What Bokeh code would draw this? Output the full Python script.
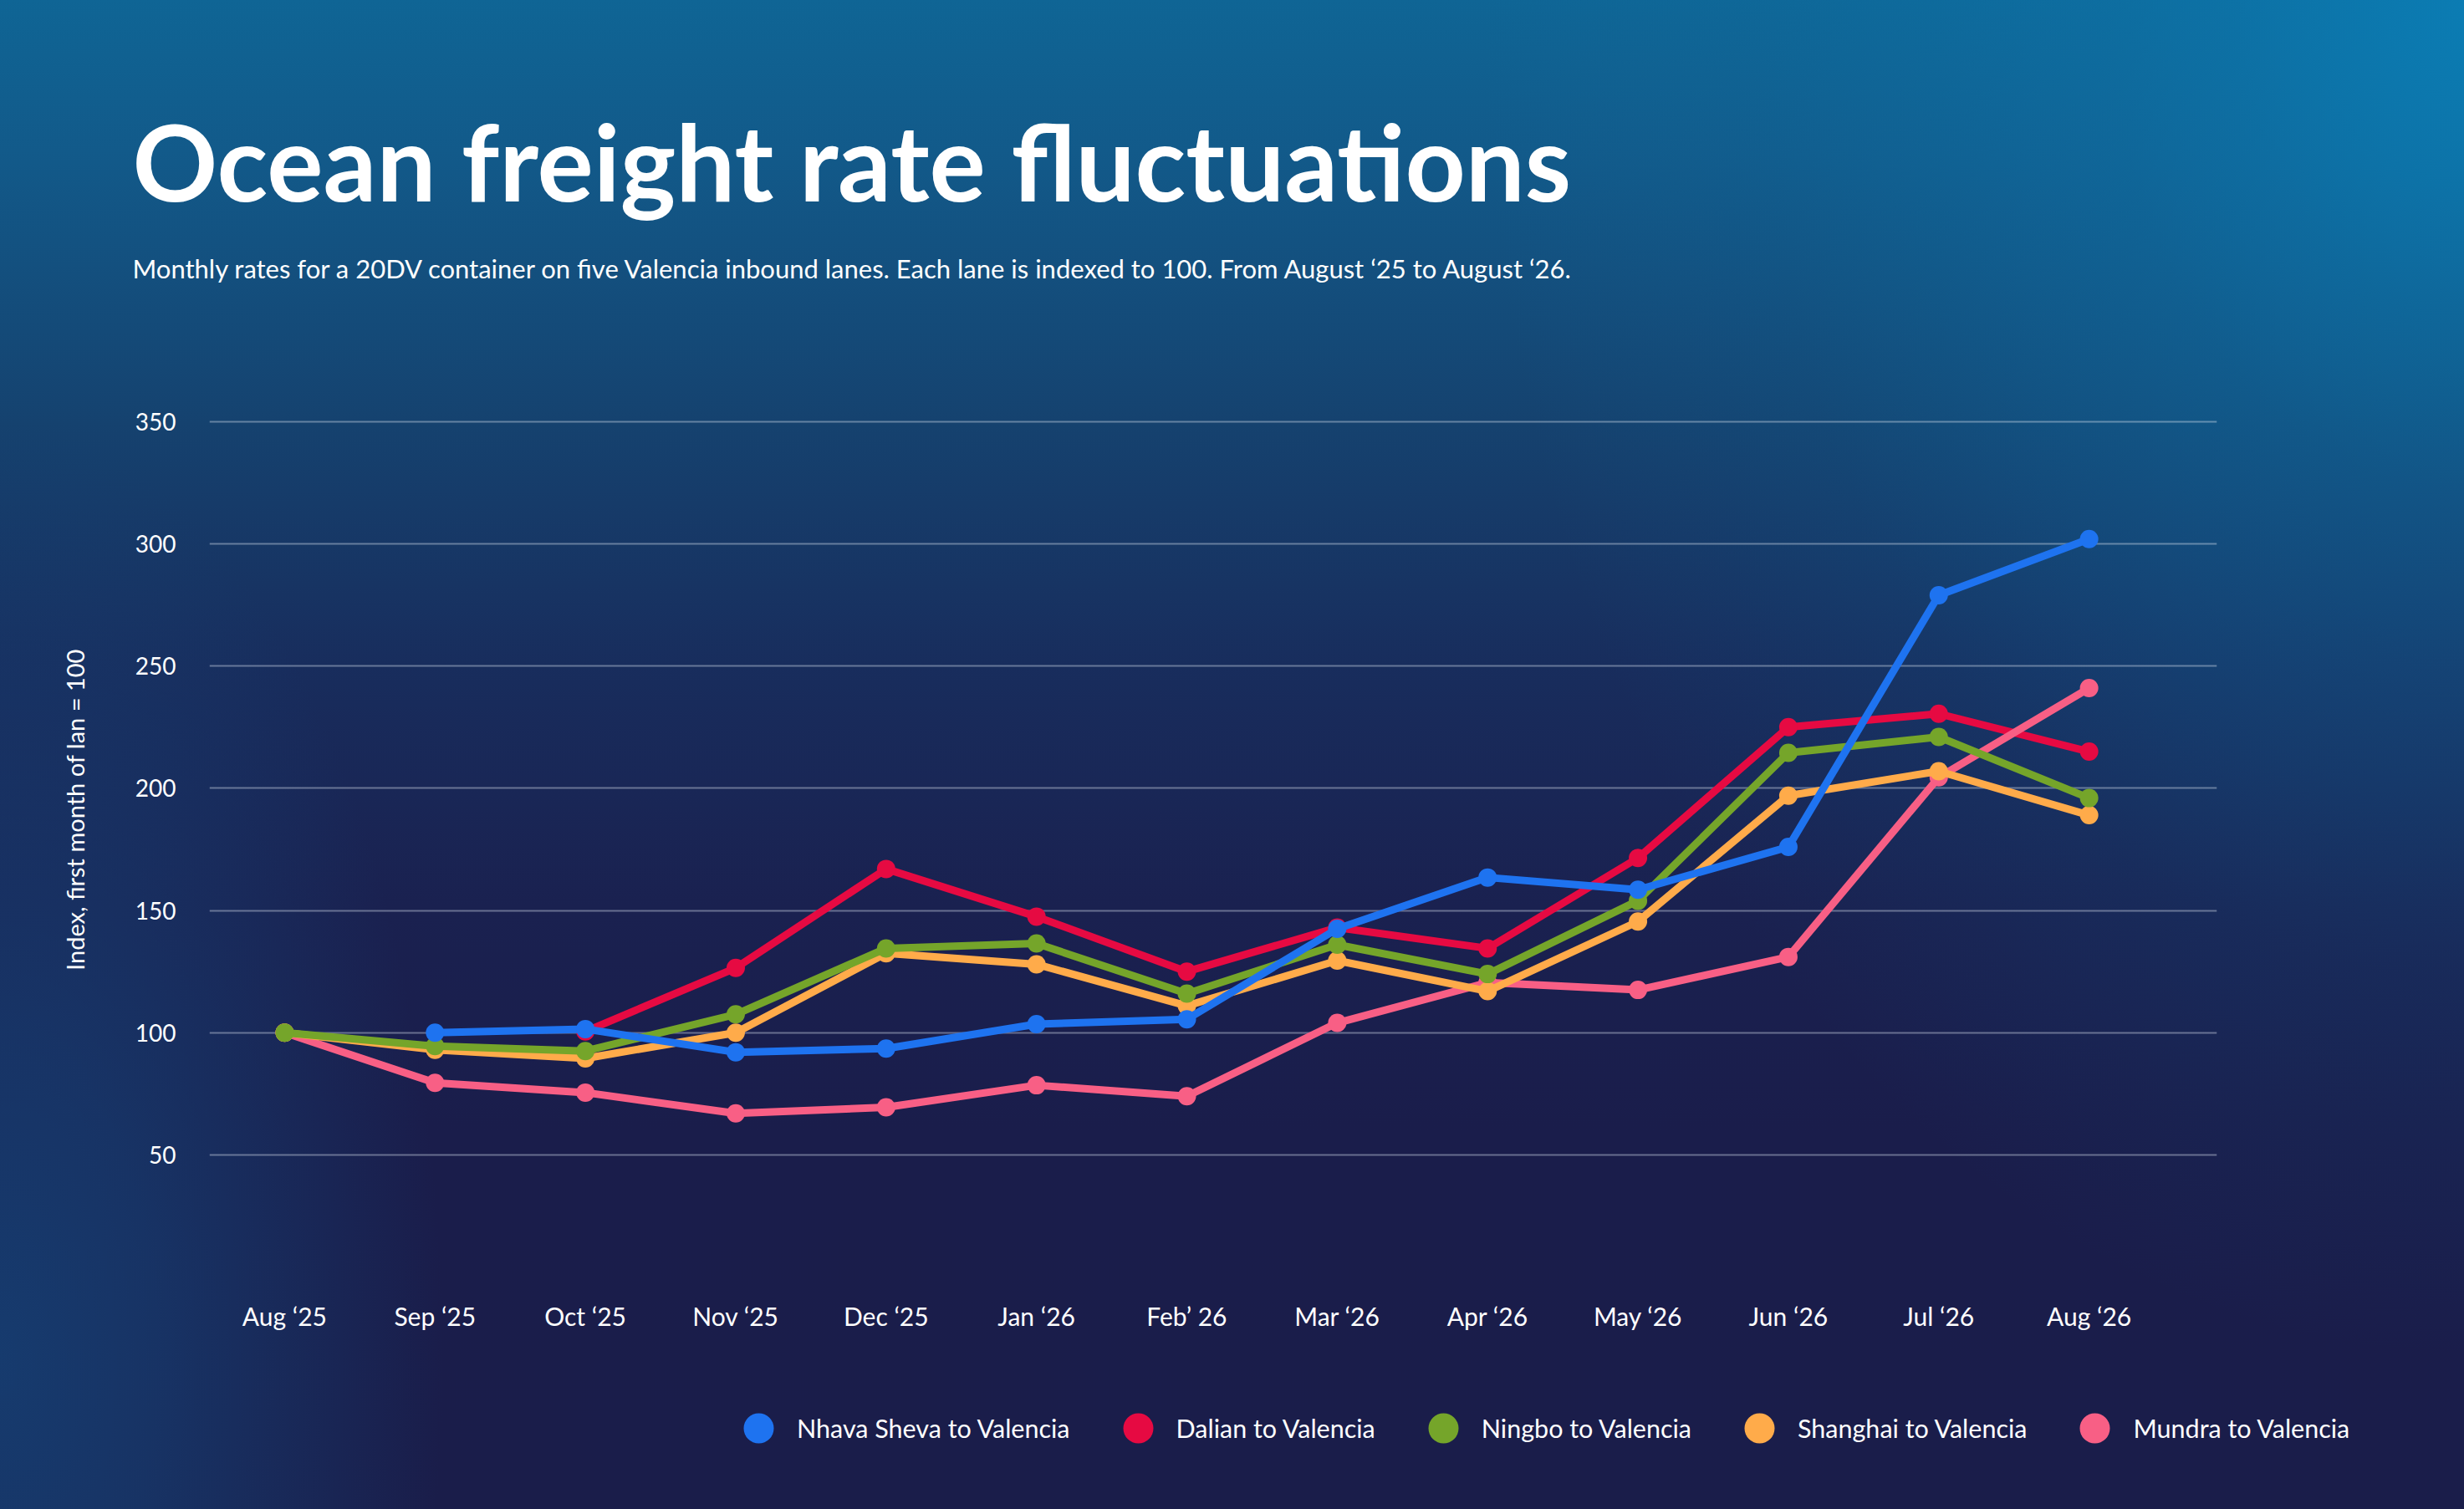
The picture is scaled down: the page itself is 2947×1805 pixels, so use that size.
from bokeh.plotting import figure
from bokeh.models import (ColumnDataSource, FixedTicker, Legend, LegendItem,
                          Label, Range1d)
from bokeh.embed import file_html
from bokeh.resources import INLINE

# ---------------- data ----------------
months = ["Aug \u201825", "Sep \u201825", "Oct \u201825", "Nov \u201825", "Dec \u201825",
          "Jan \u201826", "Feb\u2019 26", "Mar \u201826", "Apr \u201826", "May \u201826",
          "Jun \u201826", "Jul \u201826", "Aug \u201826"]

lanes = ["Nhava Sheva to Valencia", "Dalian to Valencia", "Ningbo to Valencia",
         "Shanghai to Valencia", "Mundra to Valencia"]

nhava_sheva = [None, 100, 101.5, 92, 93.5, 103.5, 105.5, 142.5, 163.5, 158.5, 176, 279, 302]
dalian = [None, None, 100.5, 126.5, 167, 147.5, 125, 143, 134.5, 171.5, 225, 230.5, 215]
ningbo = [100, 94.5, 92.5, 107.5, 134.5, 136.5, 116, 136, 124, 154, 214.5, 221, 196]
shanghai = [100, 93, 89.5, 100, 132.5, 128, 111, 129.5, 117, 145.5, 197, 207, 189]
mundra = [100, 79.5, 75.5, 67, 69.5, 78.5, 74, 104, 120.5, 117.5, 131, 204.5, 241]

y_ticks = [50, 100, 150, 200, 250, 300, 350]

title_text = "Ocean freight rate fluctuations"
subtitle_text = ("Monthly rates for a 20DV container on five Valencia inbound lanes. "
                 "Each lane is indexed to 100. From August \u201825 to August \u201826.")
y_label = "Index, first month of lan = 100"

colors = ["#1e73f0", "#e60a42", "#75a52a", "#ffab4a", "#f85f85"]
series = [nhava_sheva, dalian, ningbo, shanghai, mundra]

FONT = "Lato"
W = 2947
H_HEAD, H_MAIN, H_LEG = 360, 1260, 185


def bare_strip(height):
    f = figure(width=W, height=height, output_backend="svg", toolbar_location=None,
               x_range=Range1d(0, W), y_range=Range1d(0, height),
               x_axis_location=None, y_axis_location=None, min_border=0, title=None)
    f.background_fill_alpha = 0
    f.border_fill_alpha = 0
    f.outline_line_color = None
    f.grid.visible = False
    return f

# ---------------- heading strip ----------------
head = bare_strip(H_HEAD)
head.add_layout(Label(x=158, y=168, text=title_text, text_font=FONT,
                      text_font_size="126px", text_font_style="bold",
                      text_color="white", text_align="left",
                      text_baseline="middle"))
head.add_layout(Label(x=158, y=40, text=subtitle_text, text_font=FONT,
                      text_font_size="31px", text_font_style="normal",
                      text_color="white", text_align="left",
                      text_baseline="middle"))

# ---------------- main chart ----------------
p = figure(width=W, height=H_MAIN, output_backend="svg", toolbar_location=None,
           x_range=Range1d(-0.5, 12.85), y_range=Range1d(3.8, 378.7),
           min_border_left=250, min_border_right=296,
           min_border_top=420 - H_HEAD, min_border_bottom=H_MAIN - (1516 - H_HEAD),
           title=None)
p.background_fill_alpha = 0
p.border_fill_alpha = 0
p.outline_line_color = None

x_idx = list(range(len(months)))

def clean(vals):
    return [float("nan") if v is None else v for v in vals]

sources = [ColumnDataSource(dict(x=x_idx, y=clean(s))) for s in series]

draw_order = [1, 4, 3, 2, 0]  # red, pink, orange, green, blue (blue on top)
for i in draw_order:
    p.line("x", "y", source=sources[i], line_color=colors[i], line_width=9,
           line_join="round", line_cap="round")
    p.scatter("x", "y", source=sources[i], size=22, fill_color=colors[i],
              line_color=None, marker="circle")

p.yaxis.ticker = FixedTicker(ticks=y_ticks)
p.yaxis.axis_label = y_label
p.yaxis.axis_label_text_font = FONT
p.yaxis.axis_label_text_font_size = "29px"
p.yaxis.axis_label_text_font_style = "normal"
p.yaxis.axis_label_text_color = "white"
p.yaxis.axis_label_standoff = 52
p.yaxis.major_label_text_font = FONT
p.yaxis.major_label_text_font_size = "28px"
p.yaxis.major_label_text_color = "white"
p.yaxis.major_label_standoff = 34

p.xaxis.ticker = FixedTicker(ticks=x_idx)
p.xaxis.major_label_overrides = {i: m for i, m in enumerate(months)}
p.xaxis.major_label_text_font = FONT
p.xaxis.major_label_text_font_size = "30px"
p.xaxis.major_label_text_color = "white"
p.xaxis.major_label_standoff = 33

for ax in (p.xaxis, p.yaxis):
    ax.axis_line_color = None
    ax.major_tick_line_color = None
    ax.minor_tick_line_color = None

p.xgrid.grid_line_color = None
p.ygrid.grid_line_color = "#dfe6f2"
p.ygrid.grid_line_alpha = 0.4
p.ygrid.grid_line_width = 2

# ---------------- legend strip ----------------
lg = figure(width=W, height=H_LEG, output_backend="svg", toolbar_location=None,
            x_range=Range1d(0, 1), y_range=Range1d(0, 1),
            x_axis_location=None, y_axis_location=None,
            min_border=0, title=None)
lg.background_fill_alpha = 0
lg.border_fill_alpha = 0
lg.outline_line_color = None
lg.grid.visible = False

swatches = [lg.scatter("x", "y", source=sources[i], size=36, fill_color=colors[i],
                       line_color=None, marker="circle") for i in range(len(lanes))]
legend = Legend(items=[LegendItem(label=lanes[i], renderers=[swatches[i]])
                       for i in range(len(lanes))],
                orientation="horizontal", location=(862, 52),
                glyph_width=90, glyph_height=90, label_standoff=1, spacing=36,
                padding=0, margin=0, border_line_alpha=0, background_fill_alpha=0,
                label_text_color="white", label_text_font=FONT,
                label_text_font_size="30.5px")
lg.add_layout(legend)

html = file_html([head, p, lg], INLINE, title=title_text)
css = ("<style>html{min-height:100%;background:"
       "radial-gradient(ellipse 18% 62% at 0% 90%, rgba(21,69,122,0.75) 0%, "
       "rgba(21,69,122,0.55) 35%, rgba(21,69,122,0.28) 68%, "
       "rgba(21,69,122,0) 100%),"
       "radial-gradient(ellipse 40% 90% at 100% 0%, rgba(11,124,179,1) 0%, "
       "rgba(11,124,179,0.56) 23%, rgba(11,124,179,0.38) 36%, rgba(11,124,179,0.11) 72%, "
       "rgba(11,124,179,0) 100%),"
       "linear-gradient(180deg, #0f6595 0%, #125a8a 10%, #15426f 28%, #182d5d 44%, "
       "#1a2150 60%, #1a1d4b 75%, #1a1d4a 100%);}</style>")
html = html.replace("</head>", css + "</head>", 1)
open("out.html", "w").write(html)
